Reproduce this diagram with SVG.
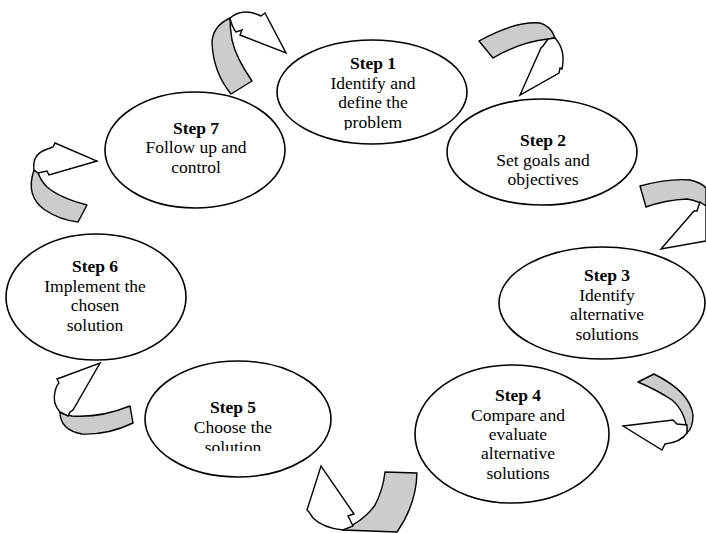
<svg xmlns="http://www.w3.org/2000/svg" width="706" height="533" viewBox="0 0 706 533">
<style>
.node ellipse{fill:#fff;stroke:#000;stroke-width:1.6}
.t{font-family:'Liberation Serif','Times New Roman',Times,'DejaVu Serif',serif;font-size:17.5px;fill:#000;text-anchor:middle}
.b{font-weight:bold}
.band{fill:#cccccc;stroke:#000;stroke-width:1.4;stroke-linejoin:round}
.head{fill:#fff;stroke:#000;stroke-width:1.4;stroke-linejoin:miter}
</style>
<defs>
<clipPath id="c1"><rect x="270" y="30" width="210" height="100"/></clipPath>
<clipPath id="c5"><rect x="140" y="355" width="200" height="96"/></clipPath>
</defs>
<rect width="706" height="533" fill="#fff"/>
<g id="connectors">
<g id="a71">
<path class="band" d="M230,18 Q213,26 212,42 Q213,72 231,94 L252,81 Q236,58 232,40 Q230,28 230,18 Z"/>
<path class="head" d="M230,18 Q243,7 261,16 L265,13 L286,53 L240,35 L242,30 L236,32 Q232,27 230,18 Z"/>
</g>
<g id="a12">
<path class="band" d="M479,41 Q515,21 540,23 Q551,26 555,38 L548,39 Q520,42 493,58 Z"/>
<path class="head" d="M548,39 L543,46 L541,48 L520,95 L559,73 L560,68 L562,69 Q566,50 555,38 Z"/>
</g>
<g id="a23">
<path class="band" d="M640,186 Q670,178 690,180 Q702,183 706,188 L706,207 Q700,201 687,199 Q665,200 646,207 Z"/>
<path class="head" d="M700,202 L697,211 L694,211 L661,249 L706,241 L706,206 Z"/>
</g>
<g id="a34">
<path class="band" d="M638,382 L654,374 Q690,392 693,415 Q693,428 687,433 Q686,412 672,400 Q657,390 638,382 Z"/>
<path class="head" d="M687,425 L677,424 L673,420 L623,426 L662,450 L665,444 Q681,442 687,433 Z"/>
</g>
<g id="a45">
<path class="band" d="M385,472 L417,473 Q416,505 397,532 L343,530 Q365,520 375,505 Q383,490 385,472 Z"/>
<path class="head" d="M343,530 Q323,528 313,518 L309,512 L307,510 L321,466 L354,514 L348,516 L353,526 Z"/>
</g>
<g id="a56">
<path class="band" d="M60,412 Q60,430 82,434 Q108,435 133,423 L130,406 Q100,418 72,416 Q64,415 60,412 Z"/>
<path class="head" d="M60,412 Q52,403 55,392 Q56,386 59,383 L57,379 L100,363 L73,410 L70,412 L68,416 Z"/>
</g>
<g id="a67">
<path class="band" d="M34,170 Q25,196 45,210 Q60,220 78,222 L87,205 Q60,198 47,187 Q40,180 38,172 Z"/>
<path class="head" d="M34,170 Q32,155 45,150 L53,147 L55,143 L97,161 L49,175 L47,171 L38,173 Z"/>
</g>
</g>
<g id="step1" class="node">
<ellipse cx="372" cy="92" rx="95" ry="52"/>
<g clip-path="url(#c1)">
<text class="t b" x="373" y="69">Step 1</text>
<text class="t" x="373" y="89">Identify and</text>
<text class="t" x="373" y="108">define the</text>
<text class="t" x="373" y="128">problem</text>
</g>
</g>
<g id="step2" class="node">
<ellipse cx="542" cy="152" rx="95" ry="53"/>
<text class="t b" x="543" y="146">Step 2</text>
<text class="t" x="543" y="166">Set goals and</text>
<text class="t" x="543" y="185">objectives</text>
</g>
<g id="step3" class="node">
<ellipse cx="602" cy="303" rx="103" ry="56"/>
<text class="t b" x="607" y="281">Step 3</text>
<text class="t" x="607" y="301">Identify</text>
<text class="t" x="607" y="320">alternative</text>
<text class="t" x="607" y="340">solutions</text>
</g>
<g id="step4" class="node">
<ellipse cx="512" cy="434" rx="97" ry="69"/>
<text class="t b" x="518" y="401">Step 4</text>
<text class="t" x="518" y="421">Compare and</text>
<text class="t" x="518" y="440">evaluate</text>
<text class="t" x="518" y="459">alternative</text>
<text class="t" x="518" y="479">solutions</text>
</g>
<g id="step5" class="node">
<ellipse cx="238" cy="419" rx="93" ry="58"/>
<g clip-path="url(#c5)">
<text class="t b" x="233" y="413">Step 5</text>
<text class="t" x="233" y="433">Choose the</text>
<text class="t" x="233" y="453">solution</text>
</g>
</g>
<g id="step6" class="node">
<ellipse cx="96" cy="297" rx="90" ry="63"/>
<text class="t b" x="95" y="272">Step 6</text>
<text class="t" x="95" y="292">Implement the</text>
<text class="t" x="95" y="311">chosen</text>
<text class="t" x="95" y="331">solution</text>
</g>
<g id="step7" class="node">
<ellipse cx="195" cy="150" rx="90" ry="58"/>
<text class="t b" x="196" y="134">Step 7</text>
<text class="t" x="196" y="153">Follow up and</text>
<text class="t" x="196" y="173">control</text>
</g>
</svg>
